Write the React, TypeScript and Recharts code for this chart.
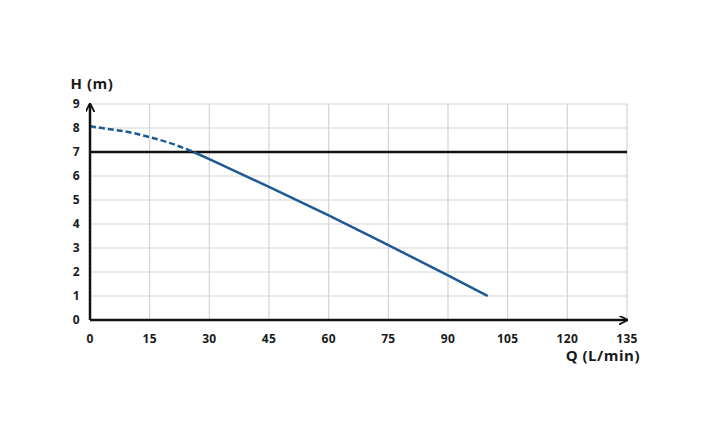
import { LineChart, Line, XAxis, YAxis, CartesianGrid, ReferenceLine, Label } from "recharts"

// flow Q (L/min) / head H (m), dashed start of the curve
const dashedQ = [0, 5, 10, 15, 20, 26]
const dashedH = [8.07, 7.95, 7.82, 7.62, 7.38, 7.0]

// solid part of the pump curve
const solidQ = [26, 30, 45, 60, 75, 90, 100]
const solidH = [7.0, 6.7, 5.55, 4.36, 3.12, 1.86, 1.0]

const xTicks = [0, 15, 30, 45, 60, 75, 90, 105, 120, 135]
const yTicks = [0, 1, 2, 3, 4, 5, 6, 7, 8, 9]
const limitH = 7

const dashedData = dashedQ.map((q, i) => ({ q, h: dashedH[i] }))
const solidData = solidQ.map((q, i) => ({ q, h: solidH[i] }))

const font = "'Open Sans', sans-serif"
const blue = "#1d5a94"

export default function App() {
  const tick = { fill: "#1a1a1a", fontSize: 12, fontWeight: 700, fontFamily: font, letterSpacing: 0.3 }
  const labelStyle = { fill: "#1a1a1a", fontSize: 15, fontWeight: 700, fontFamily: font, letterSpacing: 0.5 }

  return (
    <div style={{ position: "absolute", left: 0, top: 0, background: "#fff" }}>
      <svg width={0} height={0} style={{ position: "absolute" }}>
        <defs>
          <marker
            id="arrow"
            viewBox="0 0 10 10"
            refX="9"
            refY="5"
            markerWidth="9"
            markerHeight="9"
            markerUnits="userSpaceOnUse"
            orient="auto-start-reverse"
          >
            <path d="M0,0 L10,5 L0,10" fill="none" stroke="#111" strokeWidth={2} />
          </marker>
        </defs>
      </svg>
      <LineChart width={714} height={441} margin={{ top: 104, right: 87, left: 60, bottom: 91 }}>
        <CartesianGrid stroke="#d4d4d4" strokeWidth={1.2} />
        <XAxis
          type="number"
          dataKey="q"
          domain={[0, 135]}
          ticks={xTicks}
          interval={0}
          height={30}
          tickLine={false}
          tickMargin={8}
          tick={tick}
          axisLine={{ stroke: "#111", strokeWidth: 2.5, markerEnd: "url(#arrow)" }}
        >
          <Label value="Q (L/min)" position="insideBottomRight" offset={-11} dx={2} style={labelStyle} />
        </XAxis>
        <YAxis
          type="number"
          domain={[0, 9]}
          ticks={yTicks}
          interval={0}
          width={30}
          tickLine={false}
          tickMargin={4}
          tick={tick}
          axisLine={{ stroke: "#111", strokeWidth: 2.5, markerStart: "url(#arrow)" }}
        >
          <Label value="H (m)" position="top" offset={0} dy={-15} dx={17} style={labelStyle} />
        </YAxis>
        <ReferenceLine y={limitH} stroke="#111" strokeWidth={2.5} />
        <Line
          data={dashedData}
          dataKey="h"
          type="monotone"
          stroke={blue}
          strokeWidth={2.5}
          strokeDasharray="6 3"
          dot={false}
          isAnimationActive={false}
        />
        <Line
          data={solidData}
          dataKey="h"
          type="monotone"
          stroke={blue}
          strokeWidth={2.5}
          dot={false}
          isAnimationActive={false}
        />
      </LineChart>
    </div>
  )
}
